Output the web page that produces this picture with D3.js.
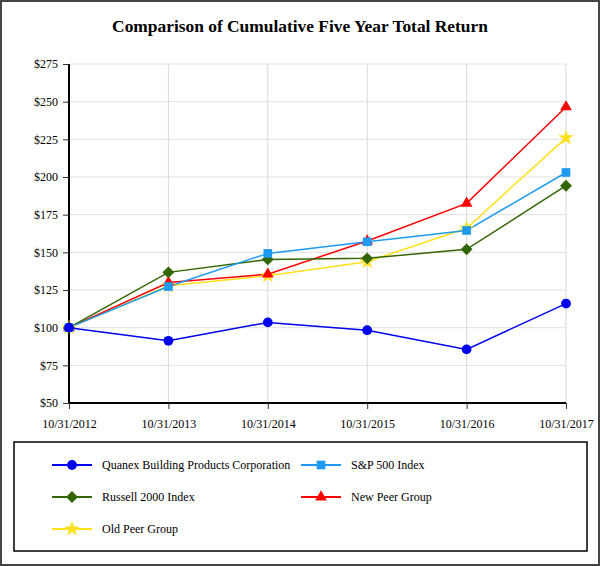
<!DOCTYPE html>
<html lang="en">
  <head>
    <title>Cumulative Total Return</title>
    <script src="https://cdn.jsdelivr.net/npm/d3@7"></script>
    <style>
      body { margin: 0; background-color: white; }
    </style>
  </head>
  <body>
    <div id="container"></div>
<script>
    const dates = ["10/31/2012", "10/31/2013", "10/31/2014", "10/31/2015", "10/31/2016", "10/31/2017"];
    const yTicks = [50, 75, 100, 125, 150, 175, 200, 225, 250, 275];

    const quanex = [100, 91.3, 103.5, 98.3, 85.6, 116];
    const sp500 = [100, 127.3, 149.3, 157, 164.5, 203];
    const russell = [100, 136.7, 145.3, 146, 152, 194.2];
    const newPeer = [100, 130, 135.5, 157.5, 182.5, 246.5];
    const oldPeer = [100, 127.8, 134.5, 143.8, 166, 226];

    const seriesNames = ["Quanex Building Products Corporation", "S&P 500 Index", "Russell 2000 Index", "New Peer Group", "Old Peer Group"];
    const seriesColors = ["#0000ee", "#1e9bf0", "#336600", "#ff0000", "#ffe01a"];
    const seriesShapes = [d3.symbolCircle, d3.symbolSquare, d3.symbolSquare, d3.symbolTriangle, d3.symbolStar];
    const seriesRot = [0, 0, 45, 0, 0];
    const seriesSizes = [75, 75, 70, 60, 75];
    const seriesValues = [quanex, sp500, russell, newPeer, oldPeer];

    const W = 600, H = 566;
    const plot = {left: 69, right: 566, top: 64, bottom: 403};

    const svg = d3.select("#container").append("svg")
      .attr("width", W).attr("height", H)
      .style("font-family", "'Liberation Serif', 'Times New Roman', serif");

    // outer frame
    svg.append("rect")
      .attr("x", 1).attr("y", 1).attr("width", W - 2).attr("height", H - 2)
      .attr("fill", "white").attr("stroke", "#444").attr("stroke-width", 2);

    svg.append("text")
      .attr("x", W / 2).attr("y", 32)
      .attr("text-anchor", "middle")
      .style("font-size", "17.4px").style("font-weight", "bold")
      .text("Comparison of Cumulative Five Year Total Return");

    const x = d3.scalePoint().domain(dates).range([plot.left, plot.right]);
    const y = d3.scaleLinear().domain([50, 275]).range([plot.bottom, plot.top]);

    // grid
    svg.append("g").selectAll("line.h")
      .data(yTicks.slice(1))
      .enter().append("line")
        .attr("x1", plot.left).attr("x2", plot.right)
        .attr("y1", d => y(d)).attr("y2", d => y(d))
        .attr("stroke", "#e0e0e0").attr("stroke-width", 1);
    svg.append("g").selectAll("line.v")
      .data(dates.slice(1))
      .enter().append("line")
        .attr("x1", d => x(d)).attr("x2", d => x(d))
        .attr("y1", plot.top).attr("y2", plot.bottom)
        .attr("stroke", "#d8d8d8").attr("stroke-width", 1);

    const yAxis = svg.append("g")
      .attr("transform", `translate(${plot.left},0)`)
      .call(d3.axisLeft(y).tickValues(yTicks).tickFormat(d => "$" + d).tickSize(6).tickPadding(5));
    const xAxis = svg.append("g")
      .attr("transform", `translate(0,${plot.bottom})`)
      .call(d3.axisBottom(x).tickSize(6).tickPadding(10));

    [yAxis, xAxis].forEach(a => {
      a.select(".domain").attr("stroke", "black").attr("stroke-width", 2);
      a.selectAll(".tick line").attr("stroke", "#333");
      a.selectAll("text").style("font-family", "'Liberation Serif', serif").style("font-size", "12px").attr("fill", "black");
    });
    yAxis.select(".domain").attr("d", `M0,${plot.top}V${plot.bottom}`);
    xAxis.select(".domain").attr("d", `M${plot.left},0H${plot.right}`);

    const line = d3.line().x((d, i) => x(dates[i])).y(d => y(d));

    // draw in stacking order: old peer under others
    const order = [4, 3, 2, 1, 0];
    order.forEach(k => {
      svg.append("path")
        .datum(seriesValues[k])
        .attr("d", line)
        .attr("fill", "none")
        .attr("stroke", seriesColors[k])
        .attr("stroke-width", 1.5);
    });
    order.forEach(k => {
      svg.append("g").selectAll("path")
        .data(seriesValues[k])
        .enter().append("path")
          .attr("transform", (d, i) => `translate(${x(dates[i])},${y(d)}) rotate(${seriesRot[k]})`)
          .attr("d", d3.symbol().type(seriesShapes[k]).size(seriesSizes[k]))
          .attr("fill", seriesColors[k]);
    });

    // legend
    svg.append("rect")
      .attr("x", 14).attr("y", 442).attr("width", 573).attr("height", 109)
      .attr("fill", "none").attr("stroke", "black").attr("stroke-width", 1.5);

    const legendPos = [[52, 465], [301, 465], [52, 497], [301, 497], [52, 529]];
    const lg = svg.append("g").selectAll("g")
      .data(seriesNames)
      .enter().append("g")
        .attr("transform", (d, i) => `translate(${legendPos[i][0]},${legendPos[i][1]})`);
    lg.append("line")
      .attr("x1", 0).attr("x2", 40)
      .attr("stroke", (d, i) => seriesColors[i]).attr("stroke-width", 2);
    lg.append("path")
      .attr("transform", (d, i) => `translate(20,0) rotate(${seriesRot[i]})`)
      .attr("d", (d, i) => d3.symbol().type(seriesShapes[i]).size(seriesSizes[i])())
      .attr("fill", (d, i) => seriesColors[i]);
    lg.append("text")
      .attr("x", 50).attr("y", 0).attr("dy", "0.35em")
      .style("font-size", "12px")
      .text(d => d);
</script>
  </body>
</html>
